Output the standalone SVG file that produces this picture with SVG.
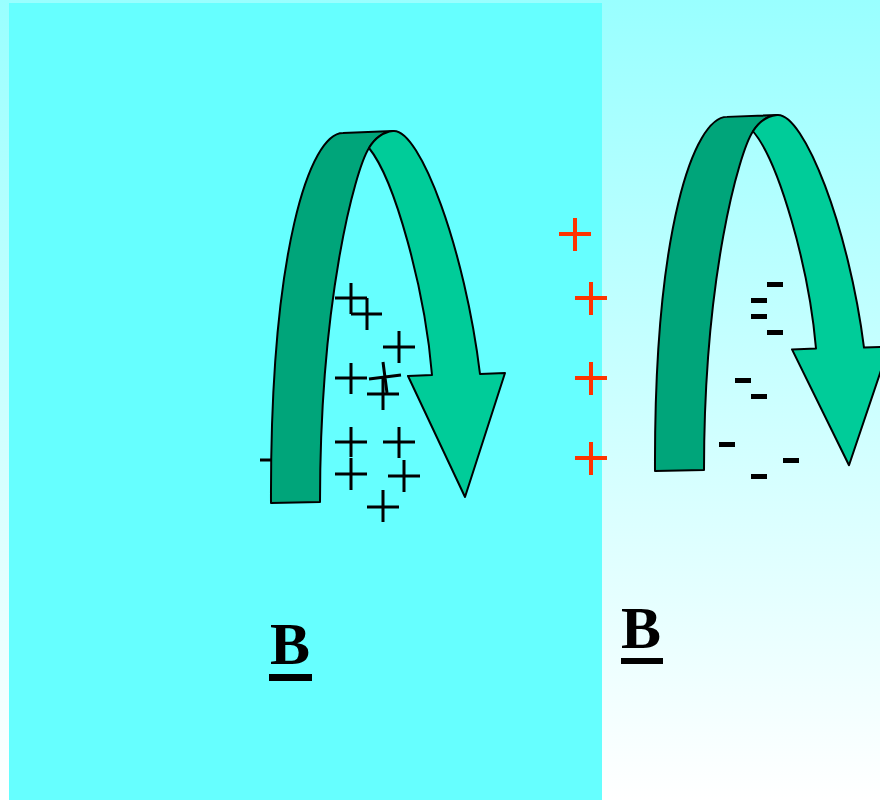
<svg xmlns="http://www.w3.org/2000/svg" width="880" height="800" viewBox="0 0 880 800">
<defs>
<linearGradient id="bg" x1="0" y1="0" x2="0" y2="1">
<stop offset="0" stop-color="#99ffff"/>
<stop offset="1" stop-color="#ffffff"/>
</linearGradient>
<g id="arrow">
<path class="dark" d="M271,503 C270,250 310,133 343,133 L393,131 C384,132 375,138 369,148 C355,170 320,300 320,502 Z"/>
<path class="light" d="M393,131 C420,128 465,250 480,374 L505,373 L465,497 L408,376 L432,375 C425,290 395,180 369,148 C375,138 384,132 393,131 Z"/>
</g>
</defs>
<style>
.dark{fill:#00a57a;stroke:#000;stroke-width:2;stroke-linejoin:round}
.light{fill:#00cc99;stroke:#000;stroke-width:2;stroke-linejoin:round}
.blk{stroke:#000;stroke-width:3;fill:none}
.red{stroke:#ff3300;stroke-width:4;fill:none}
.minus{fill:#000}
.lbl{font-family:"Liberation Serif","Times New Roman",serif;font-weight:bold;font-size:60px;fill:#000}
</style>
<rect x="0" y="0" width="880" height="800" fill="url(#bg)"/>
<rect x="9" y="3" width="593" height="797" fill="#66ffff"/>

<g id="left-charges" class="blk">
<path d="M335,298H367M351,283V314"/>
<path d="M351,314H382M367,298V330"/>
<path d="M383,347H415M399,331V363"/>
<path d="M335,378H367M351,363V394"/>
<path d="M369,379L401,375M383,362L387,393"/>
<path d="M367,394H399M383,378V410"/>
<path d="M335,442H367M351,427V457"/>
<path d="M383,442H415M399,427V458"/>
<path d="M335,474H367M351,458V490"/>
<path d="M388,476H420M404,460V492"/>
<path d="M367,507H399M383,490V522"/>
<path d="M260,460H292M276,444V476"/>
</g>

<g id="left-arrow">
<use href="#arrow"/>
</g>

<g id="right-arrow">
<use href="#arrow" transform="translate(384,115) scale(1,0.957) translate(0,-131)"/>
</g>

<g id="red-charges" class="red">
<path d="M559,234H591M575,218V251"/>
<path d="M575,298H607M591,282V315"/>
<path d="M575,378H607M591,362V395"/>
<path d="M575,458H607M591,442V475"/>
</g>

<g id="right-charges" class="minus">
<rect x="767" y="282" width="16" height="5"/>
<rect x="751" y="298" width="16" height="5"/>
<rect x="751" y="314" width="16" height="5"/>
<rect x="767" y="330" width="16" height="5"/>
<rect x="735" y="378" width="16" height="5"/>
<rect x="751" y="394" width="16" height="5"/>
<rect x="719" y="442" width="16" height="5"/>
<rect x="783" y="458" width="16" height="5"/>
<rect x="751" y="474" width="16" height="5"/>
</g>

<g id="label-left">
<text class="lbl" x="270" y="664">B</text>
<rect x="269" y="674" width="43" height="7"/>
</g>
<g id="label-right">
<text class="lbl" x="621" y="648">B</text>
<rect x="621" y="658" width="42" height="6"/>
</g>
</svg>
